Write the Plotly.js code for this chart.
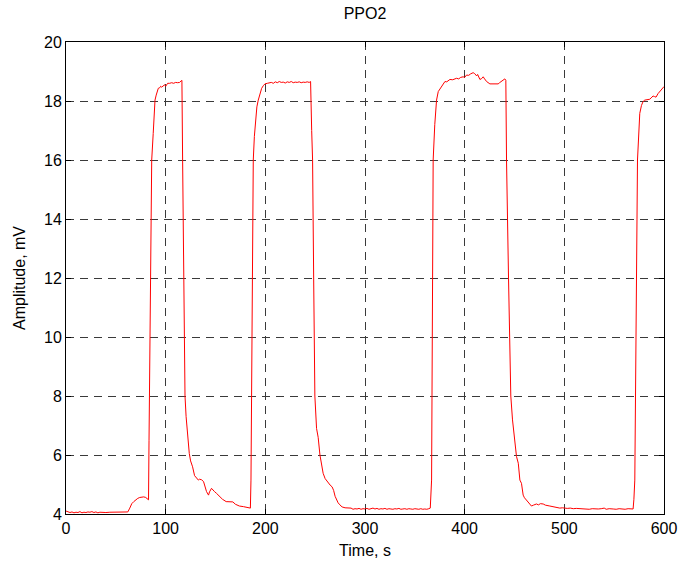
<!DOCTYPE html>
<html>
<head>
<meta charset="utf-8">
<script src="https://cdn.plot.ly/plotly-3.0.1.min.js"></script>
<style>html,body{margin:0;padding:0;background:#fff;}#chart{width:680px;height:561px;}</style>
</head>
<body>
<div id="chart"></div>
<script>
// Time (s)
const timeS = [
0,2,4,6,8,10,12,14,16,18,20,22,24,26,28,30,32,34,36,38,40,44,48,52,56,60,62,64,66,68,70,72,74,76,78,80,82,82.8,
83.3,84.3,85.3,86,87.5,88.5,89.3,90.5,91.5,92.6,94,95,96,97.6,99,100,101,102,104,106,108,110,112,114,115.5,116.3,
117,118,119.4,120.5,122,123.7,125,127,129,131,132.8,134,136,138,140,141,143,144,146,147,149,151,154,157,160.7,164,167.4,170,174,178,181,184,185,
185.6,187.9,189,190.2,191.5,192.9,194.5,196.3,198,199.6,202,204,206,208,210,212,214,216,218,220,222,224,226,228,230,232,234,236,238,240,242,244,245.4,
246.5,247.4,248.5,249.7,251.4,253,254.8,256,258,260,263,265,267,268.5,270,271,273,274.8,277,280,283,
286,288,290,292,294,296,298,300,302,304,306,308,310,312,314,316,318,320,322,324,326,328,330,332,334,336,338,340,342,344,346,348,350,352,354,356,358,360,362,364,365.5,
366.8,368.4,370,371.8,373.5,375,377,378.5,380.2,382,385.2,388,391.9,394,396,398.5,400,401.9,404,406,408.5,410,412,413,415.3,417,418.6,420,422,425.3,428,431,433.6,435,437,440.3,441.3,
442,444,446.3,448,450.4,452,453.8,455.4,457,458.7,460,462,464,467,469,472,474,476,478.8,481,485.5,488,491,495.5,498,500,503,506,509,512,515.6,519,522,525,528,531,534,537,540,542,545,549,552,555,558,561,564,567,569,
569.8,570.7,573.4,574.5,575.7,577.4,579,580.7,583,585.7,587,589,590.5,592,594,595.8,597,598.5,600
];
// PPO2 amplitude (mV)
const amplitudeMV = [
4.10,4.08,4.05,4.07,4.04,4.06,4.05,4.08,4.04,4.06,4.05,4.07,4.06,4.08,4.05,4.07,4.04,4.06,4.05,4.06,4.05,4.06,4.06,4.06,4.06,4.06,4.07,4.20,4.35,4.42,4.48,4.53,4.56,4.58,4.58,4.56,4.50,4.48,
6.5,10.0,13.5,16.0,16.9,17.6,18.03,18.2,18.32,18.43,18.45,18.5,18.47,18.52,18.55,18.5,18.58,18.6,18.6,18.62,18.6,18.63,18.62,18.63,18.68,18.7,
16.0,12.0,8.0,7.3,6.6,6.05,5.8,5.6,5.3,5.2,5.15,5.18,5.16,5.1,4.9,4.76,4.64,4.75,4.87,4.82,4.76,4.7,4.59,4.5,4.42,4.42,4.41,4.33,4.27,4.25,4.23,4.21,4.2,
5.15,16.0,16.8,17.36,17.8,18.03,18.25,18.43,18.52,18.58,18.6,18.62,18.63,18.6,18.65,18.62,18.66,18.63,18.64,18.61,18.65,18.63,18.66,18.62,18.64,18.63,18.65,18.62,18.64,18.63,18.65,18.63,18.66,
17.0,16.0,12.0,8.0,6.9,6.6,6.0,5.7,5.38,5.2,5.04,4.98,4.92,4.8,4.6,4.5,4.38,4.31,4.24,4.21,4.2,
4.2,4.16,4.18,4.17,4.19,4.16,4.18,4.17,4.19,4.16,4.18,4.2,4.17,4.19,4.16,4.18,4.17,4.19,4.16,4.18,4.17,4.16,4.18,4.17,4.19,4.16,4.17,4.18,4.16,4.18,4.17,4.16,4.18,4.17,4.16,4.18,4.16,4.17,4.16,4.18,4.2,
5.15,16.0,17.2,18.03,18.32,18.4,18.5,18.6,18.66,18.65,18.73,18.72,18.77,18.75,18.8,18.82,18.8,18.88,18.87,18.92,18.96,18.93,18.85,18.9,18.73,18.76,18.82,18.75,18.66,18.58,18.58,18.58,18.58,18.62,18.66,18.75,18.7,
16.0,12.0,8.0,7.19,6.28,5.95,5.72,5.15,5.04,4.64,4.55,4.47,4.38,4.27,4.3,4.34,4.31,4.35,4.34,4.3,4.27,4.25,4.22,4.2,4.21,4.2,4.19,4.2,4.18,4.19,4.18,4.17,4.18,4.16,4.18,4.17,4.17,4.18,4.2,4.16,4.18,4.17,4.16,4.18,4.17,4.16,4.18,4.17,4.17,
4.5,5.15,16.0,17.0,17.58,17.85,17.98,18.03,18.04,18.06,18.1,18.17,18.15,18.13,18.25,18.32,18.38,18.46,18.49
];
const xTicks = [0,100,200,300,400,500,600];
const yTicks = [4,6,8,10,12,14,16,18,20];

const font = {family: 'Arial, "Liberation Sans", Helvetica, sans-serif', size: 16, color: '#000'};
const titleFont = {family: 'Arial, "Liberation Sans", Helvetica, sans-serif', size: 16, color: '#000'};
const axisCommon = {
  showline: true, linecolor: '#000', linewidth: 1, mirror: 'ticks',
  ticks: 'inside', ticklen: 5, tickcolor: '#000', tickwidth: 1,
  showgrid: true, gridcolor: '#3a3a3a', gridwidth: 1, griddash: '8px,6px',
  zeroline: false, tickfont: font, automargin: false
};

Plotly.newPlot('chart', [{
  x: timeS, y: amplitudeMV, type: 'scatter', mode: 'lines',
  line: {color: '#ff0000', width: 1}, hoverinfo: 'skip'
}], {
  width: 680, height: 561,
  margin: {l: 66, r: 16, t: 42, b: 47},
  paper_bgcolor: '#fff', plot_bgcolor: '#fff',
  showlegend: false,
  font: font,
  title: {text: 'PPO2', font: titleFont, x: 0.5, xref: 'paper', y: 1 - 13/561, yref: 'container', yanchor: 'middle'},
  xaxis: Object.assign({}, axisCommon, {
    range: [0, 600], tickvals: xTicks, ticktext: xTicks.map(String),
    title: {text: 'Time, s', font: font, standoff: 8}
  }),
  yaxis: Object.assign({}, axisCommon, {
    range: [4, 20], tickvals: yTicks, ticktext: yTicks.map(String),
    title: {text: 'Amplitude, mV', font: font, standoff: 14}
  })
}, {staticPlot: true, displayModeBar: false});
</script>
</body>
</html>
